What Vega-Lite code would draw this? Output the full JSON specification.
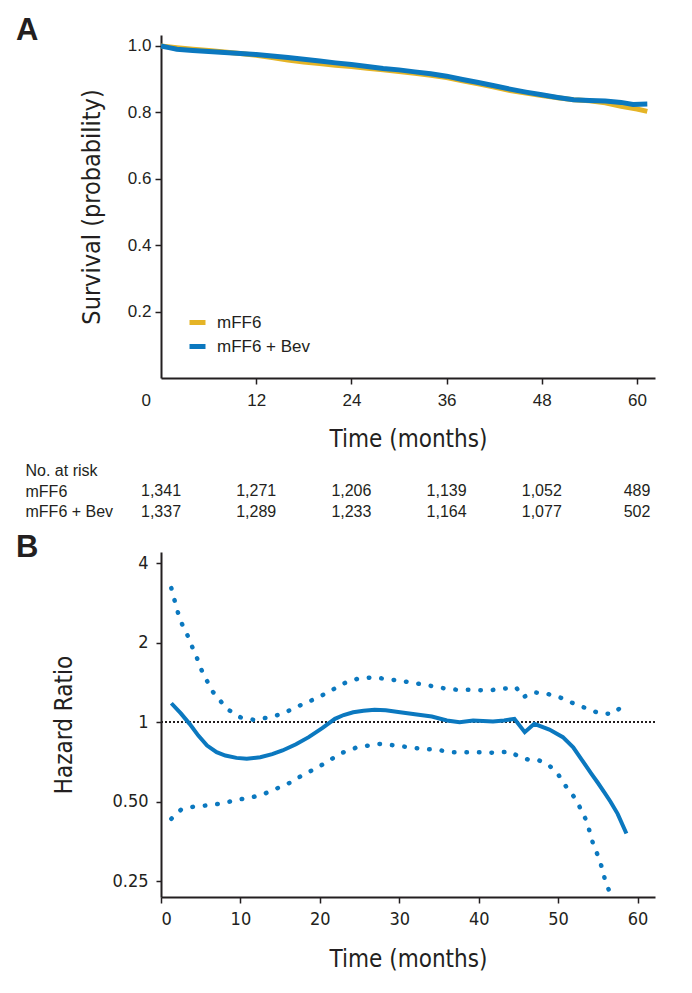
{
  "$schema": "https://vega.github.io/schema/vega-lite/v6.json",
  "background": "white",
  "padding": {"left": 16, "top": 14, "right": 5, "bottom": 5},
  "spacing": 9,
  "config": {
    "view": {"stroke": null},
    "axis": {
      "grid": false,
      "domainColor": "#231f20",
      "domainWidth": 2,
      "tickColor": "#231f20",
      "tickWidth": 1.5,
      "tickSize": 6,
      "labelColor": "#231f20",
      "titleColor": "#231f20",
      "titleFontWeight": "normal"
    },
    "legend": {"labelColor": "#231f20"}
  },
  "datasets": {
    "surv": [
      {"t": 0, "S": 1.0, "arm": "mFF6"},
      {"t": 2, "S": 0.995, "arm": "mFF6"},
      {"t": 4, "S": 0.99, "arm": "mFF6"},
      {"t": 6, "S": 0.986, "arm": "mFF6"},
      {"t": 8, "S": 0.982, "arm": "mFF6"},
      {"t": 10, "S": 0.977, "arm": "mFF6"},
      {"t": 12, "S": 0.972, "arm": "mFF6"},
      {"t": 14, "S": 0.965, "arm": "mFF6"},
      {"t": 16, "S": 0.958, "arm": "mFF6"},
      {"t": 18, "S": 0.952, "arm": "mFF6"},
      {"t": 20, "S": 0.947, "arm": "mFF6"},
      {"t": 22, "S": 0.942, "arm": "mFF6"},
      {"t": 24, "S": 0.938, "arm": "mFF6"},
      {"t": 26, "S": 0.933, "arm": "mFF6"},
      {"t": 28, "S": 0.928, "arm": "mFF6"},
      {"t": 30, "S": 0.923, "arm": "mFF6"},
      {"t": 32, "S": 0.918, "arm": "mFF6"},
      {"t": 34, "S": 0.912, "arm": "mFF6"},
      {"t": 36, "S": 0.905, "arm": "mFF6"},
      {"t": 38, "S": 0.895, "arm": "mFF6"},
      {"t": 40, "S": 0.886, "arm": "mFF6"},
      {"t": 42, "S": 0.876, "arm": "mFF6"},
      {"t": 44, "S": 0.866, "arm": "mFF6"},
      {"t": 46, "S": 0.858, "arm": "mFF6"},
      {"t": 48, "S": 0.851, "arm": "mFF6"},
      {"t": 50, "S": 0.844, "arm": "mFF6"},
      {"t": 52, "S": 0.838, "arm": "mFF6"},
      {"t": 54, "S": 0.835, "arm": "mFF6"},
      {"t": 56, "S": 0.829, "arm": "mFF6"},
      {"t": 58, "S": 0.818, "arm": "mFF6"},
      {"t": 60, "S": 0.81, "arm": "mFF6"},
      {"t": 61.3, "S": 0.803, "arm": "mFF6"},
      {"t": 0, "S": 1.0, "arm": "mFF6 + Bev"},
      {"t": 1, "S": 0.995, "arm": "mFF6 + Bev"},
      {"t": 2, "S": 0.99, "arm": "mFF6 + Bev"},
      {"t": 4, "S": 0.986, "arm": "mFF6 + Bev"},
      {"t": 6, "S": 0.983, "arm": "mFF6 + Bev"},
      {"t": 8, "S": 0.98, "arm": "mFF6 + Bev"},
      {"t": 10, "S": 0.977, "arm": "mFF6 + Bev"},
      {"t": 12, "S": 0.974, "arm": "mFF6 + Bev"},
      {"t": 14, "S": 0.97, "arm": "mFF6 + Bev"},
      {"t": 16, "S": 0.965, "arm": "mFF6 + Bev"},
      {"t": 18, "S": 0.96, "arm": "mFF6 + Bev"},
      {"t": 20, "S": 0.955, "arm": "mFF6 + Bev"},
      {"t": 22, "S": 0.949, "arm": "mFF6 + Bev"},
      {"t": 24, "S": 0.944, "arm": "mFF6 + Bev"},
      {"t": 26, "S": 0.938, "arm": "mFF6 + Bev"},
      {"t": 28, "S": 0.932, "arm": "mFF6 + Bev"},
      {"t": 30, "S": 0.928, "arm": "mFF6 + Bev"},
      {"t": 32, "S": 0.922, "arm": "mFF6 + Bev"},
      {"t": 34, "S": 0.916, "arm": "mFF6 + Bev"},
      {"t": 36, "S": 0.909, "arm": "mFF6 + Bev"},
      {"t": 38, "S": 0.899, "arm": "mFF6 + Bev"},
      {"t": 40, "S": 0.89, "arm": "mFF6 + Bev"},
      {"t": 42, "S": 0.88, "arm": "mFF6 + Bev"},
      {"t": 44, "S": 0.87, "arm": "mFF6 + Bev"},
      {"t": 46, "S": 0.861, "arm": "mFF6 + Bev"},
      {"t": 48, "S": 0.853, "arm": "mFF6 + Bev"},
      {"t": 50, "S": 0.845, "arm": "mFF6 + Bev"},
      {"t": 52, "S": 0.838, "arm": "mFF6 + Bev"},
      {"t": 54, "S": 0.836, "arm": "mFF6 + Bev"},
      {"t": 56, "S": 0.834, "arm": "mFF6 + Bev"},
      {"t": 58, "S": 0.83, "arm": "mFF6 + Bev"},
      {"t": 59.5, "S": 0.824, "arm": "mFF6 + Bev"},
      {"t": 61.3, "S": 0.825, "arm": "mFF6 + Bev"}
    ],
    "risk": [
      {"row": "mFF6", "t": 0, "n": "1,341"},
      {"row": "mFF6", "t": 12, "n": "1,271"},
      {"row": "mFF6", "t": 24, "n": "1,206"},
      {"row": "mFF6", "t": 36, "n": "1,139"},
      {"row": "mFF6", "t": 48, "n": "1,052"},
      {"row": "mFF6", "t": 60, "n": "489"},
      {"row": "mFF6 + Bev", "t": 0, "n": "1,337"},
      {"row": "mFF6 + Bev", "t": 12, "n": "1,289"},
      {"row": "mFF6 + Bev", "t": 24, "n": "1,233"},
      {"row": "mFF6 + Bev", "t": 36, "n": "1,164"},
      {"row": "mFF6 + Bev", "t": 48, "n": "1,077"},
      {"row": "mFF6 + Bev", "t": 60, "n": "502"}
    ],
    "hr": [
      {"series": "HR", "t": 1.3, "hr": 1.18},
      {"series": "HR", "t": 2.5, "hr": 1.08},
      {"series": "HR", "t": 3.6, "hr": 0.986},
      {"series": "HR", "t": 4.7, "hr": 0.89},
      {"series": "HR", "t": 5.8, "hr": 0.816},
      {"series": "HR", "t": 7.0, "hr": 0.77},
      {"series": "HR", "t": 8.1, "hr": 0.748},
      {"series": "HR", "t": 9.5, "hr": 0.733},
      {"series": "HR", "t": 10.8, "hr": 0.727},
      {"series": "HR", "t": 12.5, "hr": 0.737},
      {"series": "HR", "t": 14.0, "hr": 0.757},
      {"series": "HR", "t": 15.3, "hr": 0.782},
      {"series": "HR", "t": 17.0, "hr": 0.825},
      {"series": "HR", "t": 18.6, "hr": 0.878},
      {"series": "HR", "t": 20.3, "hr": 0.95},
      {"series": "HR", "t": 21.9, "hr": 1.03},
      {"series": "HR", "t": 23.0, "hr": 1.065},
      {"series": "HR", "t": 24.2, "hr": 1.091},
      {"series": "HR", "t": 25.5, "hr": 1.105},
      {"series": "HR", "t": 26.9, "hr": 1.114},
      {"series": "HR", "t": 28.3, "hr": 1.11},
      {"series": "HR", "t": 30.1, "hr": 1.091},
      {"series": "HR", "t": 32.2, "hr": 1.069},
      {"series": "HR", "t": 34.1, "hr": 1.051},
      {"series": "HR", "t": 36.0, "hr": 1.015},
      {"series": "HR", "t": 37.6, "hr": 1.0},
      {"series": "HR", "t": 39.3, "hr": 1.015},
      {"series": "HR", "t": 41.8, "hr": 1.006},
      {"series": "HR", "t": 43.2, "hr": 1.015},
      {"series": "HR", "t": 44.5, "hr": 1.03},
      {"series": "HR", "t": 45.8, "hr": 0.917},
      {"series": "HR", "t": 47.0, "hr": 0.986},
      {"series": "HR", "t": 48.9, "hr": 0.938},
      {"series": "HR", "t": 50.6, "hr": 0.878},
      {"series": "HR", "t": 51.9, "hr": 0.804},
      {"series": "HR", "t": 52.9, "hr": 0.727},
      {"series": "HR", "t": 54.2, "hr": 0.638},
      {"series": "HR", "t": 55.0, "hr": 0.59},
      {"series": "HR", "t": 55.8, "hr": 0.544},
      {"series": "HR", "t": 56.6, "hr": 0.5},
      {"series": "HR", "t": 57.5, "hr": 0.45},
      {"series": "HR", "t": 58.6, "hr": 0.379},
      {"series": "upper", "t": 1.3, "hr": 3.22},
      {"series": "upper", "t": 1.7, "hr": 2.9},
      {"series": "upper", "t": 2.1, "hr": 2.62},
      {"series": "upper", "t": 2.6, "hr": 2.37},
      {"series": "upper", "t": 3.3, "hr": 2.146},
      {"series": "upper", "t": 3.9, "hr": 1.938},
      {"series": "upper", "t": 4.5, "hr": 1.76},
      {"series": "upper", "t": 5.0, "hr": 1.6},
      {"series": "upper", "t": 6.4, "hr": 1.318},
      {"series": "upper", "t": 8.3, "hr": 1.124},
      {"series": "upper", "t": 10.0, "hr": 1.044},
      {"series": "upper", "t": 11.7, "hr": 1.021},
      {"series": "upper", "t": 13.6, "hr": 1.044},
      {"series": "upper", "t": 15.3, "hr": 1.076},
      {"series": "upper", "t": 17.0, "hr": 1.14},
      {"series": "upper", "t": 18.9, "hr": 1.208},
      {"series": "upper", "t": 21.1, "hr": 1.299},
      {"series": "upper", "t": 22.8, "hr": 1.397},
      {"series": "upper", "t": 24.7, "hr": 1.459},
      {"series": "upper", "t": 26.7, "hr": 1.48},
      {"series": "upper", "t": 28.3, "hr": 1.459},
      {"series": "upper", "t": 30.2, "hr": 1.435},
      {"series": "upper", "t": 32.1, "hr": 1.404},
      {"series": "upper", "t": 33.8, "hr": 1.376},
      {"series": "upper", "t": 35.6, "hr": 1.345},
      {"series": "upper", "t": 37.4, "hr": 1.326},
      {"series": "upper", "t": 39.2, "hr": 1.326},
      {"series": "upper", "t": 41.1, "hr": 1.318},
      {"series": "upper", "t": 42.9, "hr": 1.338},
      {"series": "upper", "t": 44.7, "hr": 1.356},
      {"series": "upper", "t": 45.6, "hr": 1.243},
      {"series": "upper", "t": 46.8, "hr": 1.298},
      {"series": "upper", "t": 48.4, "hr": 1.287},
      {"series": "upper", "t": 50.2, "hr": 1.243},
      {"series": "upper", "t": 51.8, "hr": 1.184},
      {"series": "upper", "t": 53.5, "hr": 1.13},
      {"series": "upper", "t": 55.2, "hr": 1.081},
      {"series": "upper", "t": 56.9, "hr": 1.076},
      {"series": "upper", "t": 58.2, "hr": 1.157},
      {"series": "lower", "t": 1.3, "hr": 0.431},
      {"series": "lower", "t": 2.5, "hr": 0.466},
      {"series": "lower", "t": 4.2, "hr": 0.48},
      {"series": "lower", "t": 6.1, "hr": 0.485},
      {"series": "lower", "t": 7.8, "hr": 0.494},
      {"series": "lower", "t": 9.7, "hr": 0.509},
      {"series": "lower", "t": 11.5, "hr": 0.52},
      {"series": "lower", "t": 13.2, "hr": 0.539},
      {"series": "lower", "t": 14.8, "hr": 0.565},
      {"series": "lower", "t": 16.4, "hr": 0.593},
      {"series": "lower", "t": 17.8, "hr": 0.63},
      {"series": "lower", "t": 19.4, "hr": 0.666},
      {"series": "lower", "t": 21.0, "hr": 0.71},
      {"series": "lower", "t": 22.5, "hr": 0.76},
      {"series": "lower", "t": 24.7, "hr": 0.804},
      {"series": "lower", "t": 27.5, "hr": 0.828},
      {"series": "lower", "t": 29.7, "hr": 0.816},
      {"series": "lower", "t": 31.2, "hr": 0.804},
      {"series": "lower", "t": 33.0, "hr": 0.793},
      {"series": "lower", "t": 34.8, "hr": 0.786},
      {"series": "lower", "t": 36.6, "hr": 0.77},
      {"series": "lower", "t": 38.4, "hr": 0.77},
      {"series": "lower", "t": 40.3, "hr": 0.77},
      {"series": "lower", "t": 42.2, "hr": 0.766},
      {"series": "lower", "t": 43.9, "hr": 0.775},
      {"series": "lower", "t": 45.2, "hr": 0.738},
      {"series": "lower", "t": 46.6, "hr": 0.717},
      {"series": "lower", "t": 47.6, "hr": 0.717},
      {"series": "lower", "t": 48.8, "hr": 0.69},
      {"series": "lower", "t": 50.0, "hr": 0.635},
      {"series": "lower", "t": 51.1, "hr": 0.565},
      {"series": "lower", "t": 52.2, "hr": 0.513},
      {"series": "lower", "t": 52.9, "hr": 0.466},
      {"series": "lower", "t": 53.6, "hr": 0.422},
      {"series": "lower", "t": 54.4, "hr": 0.347},
      {"series": "lower", "t": 55.0, "hr": 0.313},
      {"series": "lower", "t": 55.6, "hr": 0.277},
      {"series": "lower", "t": 55.9, "hr": 0.253},
      {"series": "lower", "t": 56.4, "hr": 0.231}
    ]
  },
  "vconcat": [
    {
      "width": 494,
      "height": 343,
      "title": {"text": "A", "anchor": "start", "frame": "group", "font": "Liberation Sans", "fontSize": 31, "fontWeight": "bold", "color": "#231f20", "dx": -145, "dy": 15.5},
      "data": {"name": "surv"},
      "mark": {"type": "line", "strokeWidth": 5},
      "encoding": {
        "x": {
          "field": "t", "type": "quantitative",
          "scale": {"domain": [0, 62.27], "nice": false, "zero": false},
          "axis": {
            "values": [0, 12, 24, 36, 48, 60],
            "title": "Time (months)",
            "labelFont": "Liberation Sans", "labelFontSize": 17, "labelPadding": 8,
            "labelOffset": {"condition": {"test": "datum.value == 0", "value": -20}, "value": 0},
            "tickOpacity": {"condition": {"test": "datum.value == 0", "value": 0}, "value": 1},
            "titleFont": "Liberation Sans Narrow, DejaVu Sans Condensed, sans-serif", "titleFontSize": 24, "titlePadding": 19
          }
        },
        "y": {
          "field": "S", "type": "quantitative",
          "scale": {"domain": [0, 1.033], "nice": false},
          "axis": {
            "values": [0.2, 0.4, 0.6, 0.8, 1.0], "format": ".1f",
            "title": "Survival (probability)",
            "labelFont": "Liberation Sans", "labelFontSize": 17, "labelPadding": 4,
            "titleFont": "Liberation Sans Narrow, DejaVu Sans Condensed, sans-serif", "titleFontSize": 25, "titlePadding": 23
          }
        },
        "color": {
          "field": "arm", "type": "nominal",
          "scale": {"domain": ["mFF6", "mFF6 + Bev"], "range": ["#e5b426", "#0b78bf"]},
          "legend": {
            "title": null, "orient": "none", "legendX": 26, "legendY": 277,
            "symbolType": "stroke", "symbolStrokeWidth": 5, "symbolSize": 256,
            "labelFont": "Liberation Sans", "labelFontSize": 17, "labelOffset": 9, "rowPadding": 3
          }
        }
      }
    },
    {
      "width": 494,
      "height": 62,
      "data": {"name": "risk"},
      "mark": {"type": "text", "font": "Liberation Sans", "fontSize": 16, "color": "#231f20"},
      "encoding": {
        "x": {"field": "t", "type": "quantitative", "scale": {"domain": [0, 62.27], "nice": false}, "axis": null},
        "y": {
          "field": "row", "type": "nominal",
          "scale": {"domain": ["No. at risk", "mFF6", "mFF6 + Bev"], "paddingInner": 0, "paddingOuter": 0},
          "axis": {"title": null, "domain": false, "ticks": false, "tickSize": 0, "labelAlign": "left", "labelPadding": 136, "labelFont": "Liberation Sans", "labelFontSize": 16}
        },
        "text": {"field": "n", "type": "nominal"}
      }
    },
    {
      "width": 494,
      "height": 345,
      "title": {"text": "B", "anchor": "start", "frame": "group", "font": "Liberation Sans", "fontSize": 31, "fontWeight": "bold", "color": "#231f20", "dx": -145, "dy": 15.5},
      "data": {"name": "hr"},
      "encoding": {
        "x": {
          "field": "t", "type": "quantitative",
          "scale": {"domain": [0, 62.2], "nice": false},
          "axis": {
            "values": [0, 10, 20, 30, 40, 50, 60], "title": "Time (months)",
            "labelFont": "Liberation Sans Narrow, DejaVu Sans Condensed, sans-serif", "labelFontSize": 18, "labelPadding": 7,
            "titleFont": "Liberation Sans Narrow, DejaVu Sans Condensed, sans-serif", "titleFontSize": 24, "titlePadding": 19
          }
        },
        "y": {
          "field": "hr", "type": "quantitative",
          "scale": {"type": "log", "domain": [0.218, 4.41], "nice": false},
          "axis": {
            "values": [0.25, 0.5, 1, 2, 4],
            "labelExpr": "datum.value < 1 ? format(datum.value, '.2f') : format(datum.value, 'd')",
            "title": "Hazard Ratio", "tickSize": 5,
            "labelFont": "Liberation Sans Narrow, DejaVu Sans Condensed, sans-serif", "labelFontSize": 18, "labelPadding": 8,
            "titleFont": "Liberation Sans Narrow, DejaVu Sans Condensed, sans-serif", "titleFontSize": 24, "titlePadding": 35
          }
        }
      },
      "layer": [
        {
          "mark": {"type": "rule", "strokeDash": [2, 2], "strokeWidth": 1, "color": "#231f20"},
          "encoding": {"x": null, "y": {"datum": 1, "type": "quantitative"}}
        },
        {
          "transform": [{"filter": "datum.series != 'HR'"}],
          "mark": {"type": "line", "strokeWidth": 4.5, "strokeDash": [0.5, 12], "strokeCap": "round", "color": "#0b78bf"},
          "encoding": {"detail": {"field": "series", "type": "nominal"}}
        },
        {
          "transform": [{"filter": "datum.series == 'HR'"}],
          "mark": {"type": "line", "strokeWidth": 4, "color": "#0b78bf"},
          "encoding": {}
        }
      ]
    }
  ]
}
